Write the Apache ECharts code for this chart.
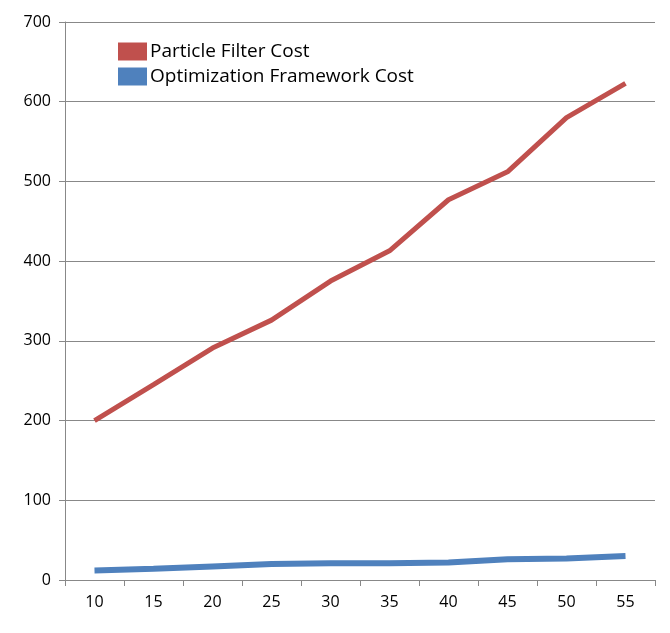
<!DOCTYPE html>
<html><head><meta charset="utf-8">
<script src="https://cdn.jsdelivr.net/npm/echarts@6/dist/echarts.min.js"></script>
<style>html,body{margin:0;padding:0;background:#fff}#c{width:670px;height:633px}</style>
</head><body><div id="c"></div>
<script>
const categories = ['10','15','20','25','30','35','40','45','50','55'];
const particleFilter = [200,245,291,326,375,413,477,512,580,623];
const optimization = [12,14,17,20,21,21,22,26,27,30];
const yTicks = {min:0,max:700,interval:100};
const chart = echarts.init(document.getElementById('c'));
chart.setOption({
  animation:false,
  textStyle:{fontFamily:'Open Sans'},
  grid:{left:65,right:15,top:22,bottom:53},
  legend:{orient:'vertical',left:113,top:37,itemWidth:29,itemHeight:18,itemGap:6,
    textStyle:{fontSize:19,color:'#000',fontFamily:'Open Sans',padding:[0,0,0,-2]},
    data:[{name:'Particle Filter Cost',icon:'rect'},{name:'Optimization Framework Cost',icon:'rect'}]},
  xAxis:{type:'category',data:categories,boundaryGap:true,
    axisLine:{lineStyle:{color:'#888'}},axisTick:{show:true,length:6,lineStyle:{color:'#888'}},
    axisLabel:{fontSize:16,color:'#000',margin:14}},
  yAxis:{type:'value',...yTicks,
    axisLine:{show:true,lineStyle:{color:'#888'}},axisTick:{show:true,length:6,inside:false,lineStyle:{color:'#888'}},
    splitLine:{lineStyle:{color:'#888'}},
    axisLabel:{fontSize:16,color:'#000',margin:14}},
  series:[
    {name:'Particle Filter Cost',type:'line',data:particleFilter,showSymbol:false,color:'#c0504d',lineStyle:{width:5,color:'#c0504d'}},
    {name:'Optimization Framework Cost',type:'line',data:optimization,showSymbol:false,color:'#4f81bd',lineStyle:{width:6,color:'#4f81bd'}}
  ]
});
</script></body></html>
